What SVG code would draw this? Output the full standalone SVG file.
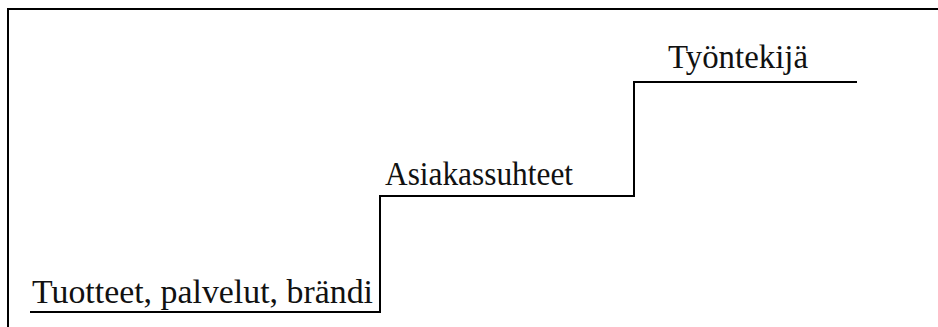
<svg xmlns="http://www.w3.org/2000/svg" width="938" height="327" viewBox="0 0 938 327">
  <style>
    .frame { fill: none; stroke: #000; stroke-width: 2; }
    .step { fill: none; stroke: #000; stroke-width: 2; stroke-linejoin: miter; }
    .label { font-family: "Liberation Serif", "DejaVu Serif", serif; font-size: 33px; fill: #111; }
  </style>
  <rect width="938" height="327" fill="#fff"/>
  <!-- open frame: left and top edges only -->
  <path class="frame" d="M8,327 V9 H938"/>
  <g id="connectors">
    <path class="step" d="M30,312 H380 V196 H634 V82 H857"/>
  </g>
  <g id="step-products">
    <text class="label" x="32" y="303" textLength="341" lengthAdjust="spacingAndGlyphs">Tuotteet, palvelut, brändi</text>
  </g>
  <g id="step-customers">
    <text class="label" x="385" y="185" textLength="188" lengthAdjust="spacingAndGlyphs">Asiakassuhteet</text>
  </g>
  <g id="step-employee">
    <text class="label" x="668" y="68" textLength="140" lengthAdjust="spacingAndGlyphs">Työntekijä</text>
  </g>
</svg>
